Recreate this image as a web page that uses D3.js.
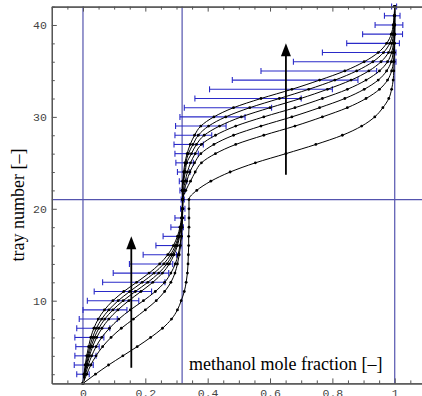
<!DOCTYPE html>
<html>
<head>
<meta charset="utf-8">
<script src="https://cdn.jsdelivr.net/npm/d3@7"></script>
<style>
  body { margin: 0; background: #fff; }
  svg { display: block; }
</style>
</head>
<body>
<svg id="chart" width="422" height="396"></svg>
<script>
// tray numbers 1..42 (category axis)
const trays = d3.range(1, 43);

// methanol mole fraction per tray, one array per profile (lowest to highest)
const profileA = [0, 0.04, 0.082, 0.128, 0.174, 0.217, 0.255, 0.284, 0.303, 0.315, 0.325, 0.331, 0.335, 0.337, 0.338, 0.339, 0.339, 0.34, 0.34, 0.34, 0.34,
  0.365, 0.41, 0.472, 0.553, 0.651, 0.747, 0.832, 0.894, 0.936, 0.962, 0.981, 0.99, 0.995, 0.997, 0.998, 0.999, 0.999, 1, 1, 1, 1];
const profileB = [0, 0.012, 0.025, 0.042, 0.063, 0.09, 0.123, 0.162, 0.2, 0.235, 0.262, 0.282, 0.295, 0.303, 0.309, 0.313, 0.316, 0.318, 0.319, 0.32, 0.32,
  0.33, 0.345, 0.36, 0.38, 0.425, 0.49, 0.58, 0.68, 0.768, 0.848, 0.908, 0.951, 0.977, 0.99, 0.996, 0.998, 0.999, 1, 1, 1, 1];
const profileC = [0, 0.008, 0.017, 0.028, 0.042, 0.06, 0.085, 0.115, 0.152, 0.194, 0.232, 0.262, 0.282, 0.296, 0.305, 0.311, 0.315, 0.317, 0.319, 0.32, 0.32,
  0.325, 0.333, 0.343, 0.358, 0.378, 0.42, 0.483, 0.571, 0.67, 0.759, 0.84, 0.902, 0.947, 0.974, 0.989, 0.995, 0.998, 0.999, 1, 1, 1];
const profileD = [0, 0.006, 0.013, 0.021, 0.031, 0.044, 0.061, 0.083, 0.112, 0.147, 0.186, 0.224, 0.255, 0.277, 0.292, 0.303, 0.31, 0.315, 0.318, 0.319, 0.32,
  0.322, 0.328, 0.335, 0.345, 0.36, 0.38, 0.425, 0.49, 0.58, 0.68, 0.768, 0.848, 0.908, 0.951, 0.977, 0.99, 0.996, 0.998, 0.999, 1, 1];
const profileE = [0, 0.005, 0.011, 0.018, 0.026, 0.037, 0.051, 0.07, 0.096, 0.129, 0.168, 0.208, 0.243, 0.269, 0.287, 0.3, 0.308, 0.314, 0.317, 0.319, 0.32,
  0.32, 0.323, 0.328, 0.333, 0.348, 0.364, 0.389, 0.438, 0.508, 0.6, 0.698, 0.784, 0.86, 0.917, 0.956, 0.98, 0.991, 0.996, 0.998, 0.999, 1];
const profileF = [0, 0.004, 0.009, 0.015, 0.022, 0.031, 0.043, 0.06, 0.083, 0.113, 0.15, 0.19, 0.228, 0.259, 0.281, 0.296, 0.306, 0.313, 0.317, 0.319, 0.32,
  0.319, 0.321, 0.325, 0.33, 0.338, 0.353, 0.37, 0.403, 0.458, 0.535, 0.63, 0.724, 0.808, 0.878, 0.93, 0.964, 0.984, 0.993, 0.997, 0.999, 1];
const profileG = [0, 0.003, 0.007, 0.012, 0.018, 0.025, 0.035, 0.049, 0.069, 0.096, 0.131, 0.172, 0.212, 0.246, 0.272, 0.29, 0.303, 0.311, 0.316, 0.318, 0.32,
  0.318, 0.32, 0.323, 0.327, 0.334, 0.344, 0.358, 0.378, 0.42, 0.483, 0.571, 0.67, 0.759, 0.84, 0.902, 0.947, 0.974, 0.989, 0.995, 0.998, 1];
const profiles = [profileA, profileB, profileC, profileD, profileE, profileF, profileG];

// blue range bars, trays 2..42
const barTrays = d3.range(2, 43);
const barLow = [-0.02, -0.028, -0.026, -0.023, -0.026, -0.02, -0.012, 0.0, 0.014, 0.036, 0.063, 0.097, 0.149, 0.193, 0.234, 0.257, 0.282, 0.295, 0.313, 0.315,
  0.311, 0.309, 0.303, 0.298, 0.295, 0.292, 0.295, 0.297, 0.311, 0.325, 0.359, 0.406, 0.479, 0.571, 0.675, 0.768, 0.846, 0.897, 0.937, 0.967, 0.99];
const barHigh = [0.02, 0.033, 0.042, 0.052, 0.067, 0.086, 0.11, 0.141, 0.179, 0.22, 0.263, 0.275, 0.288, 0.30, 0.314, 0.318, 0.322, 0.327, 0.327, 0.325,
  0.327, 0.333, 0.343, 0.354, 0.37, 0.386, 0.413, 0.459, 0.52, 0.605, 0.70, 0.80, 0.882, 0.942, 1.004, 1.004, 1.015, 1.025, 1.026, 1.017, 1.006];

// reference lines
const refX = [0, 0.318, 1];
const refY = [21];

// arrows (x, from tray, to tray)
const arrows = [[0.155, 2.7, 17.0], [0.651, 23.7, 38.0]];

// ticks
const xMajor = [0, 0.2, 0.4, 0.6, 0.8, 1];
const xTickLabels = ["0", "0.2", "0.4", "0.6", "0.8", "1"];
const yMajor = [10, 20, 30, 40];
const yTickLabels = ["10", "20", "30", "40"];

const svg = d3.select("#chart");
const x = d3.scaleLinear().domain([-0.1, 1.1]).range([51.8, 425.9]);
const y = d3.scaleLinear().domain([1, 42]).range([383.4, 6.6]);

const xMinor = d3.range(-0.1, 1.101, 0.05).filter(v => !xMajor.some(m => Math.abs(m - v) < 1e-6));
const yMinor = d3.range(2, 43, 2).filter(v => !yMajor.includes(v));

// reference lines
svg.append("g").selectAll("line").data(refX).enter().append("line")
  .attr("x1", d => x(d)).attr("x2", d => x(d))
  .attr("y1", y(1)).attr("y2", y(42))
  .attr("stroke", "#5454ae").attr("stroke-width", 1.2);
svg.append("g").selectAll("line").data(refY).enter().append("line")
  .attr("x1", x(-0.1)).attr("x2", x(1.1))
  .attr("y1", d => y(d)).attr("y2", d => y(d))
  .attr("stroke", "#5454ae").attr("stroke-width", 1.2);

// range bars
const bars = svg.append("g").attr("stroke", "#2a2ac8").attr("stroke-width", 1.1);
barTrays.forEach((t, i) => {
  const yy = y(t);
  bars.append("line").attr("x1", x(barLow[i])).attr("x2", x(barHigh[i])).attr("y1", yy).attr("y2", yy);
  bars.append("line").attr("x1", x(barLow[i])).attr("x2", x(barLow[i])).attr("y1", yy - 3).attr("y2", yy + 3);
  bars.append("line").attr("x1", x(barHigh[i])).attr("x2", x(barHigh[i])).attr("y1", yy - 3).attr("y2", yy + 3);
});

// profiles
const line = d3.line()
  .x(d => x(d[0]))
  .y(d => y(d[1]))
  .curve(d3.curveMonotoneY);

profiles.forEach(p => {
  const pts = p.map((v, i) => [v, trays[i]]);
  svg.append("path")
    .attr("d", line(pts))
    .attr("fill", "none")
    .attr("stroke", "#000")
    .attr("stroke-width", 1);
  svg.append("g").selectAll("circle").data(pts).enter().append("circle")
    .attr("cx", d => x(d[0]))
    .attr("cy", d => y(d[1]))
    .attr("r", 1.4)
    .attr("fill", "#000");
});

// arrows
arrows.forEach(a => {
  const ax = x(a[0]), tip = y(a[2]);
  svg.append("line")
    .attr("x1", ax).attr("x2", ax)
    .attr("y1", y(a[1])).attr("y2", tip + 10)
    .attr("stroke", "#000").attr("stroke-width", 1.8);
  svg.append("path")
    .attr("d", `M${ax},${tip} L${ax - 5},${tip + 13} L${ax + 5},${tip + 13} Z`)
    .attr("fill", "#000");
});

// axes
function styleAxis(g) {
  g.attr("font-family", "'Liberation Mono', monospace").attr("font-size", 11.5);
  g.selectAll(".domain").attr("stroke", "#555").attr("stroke-width", 1.2);
  g.selectAll(".tick line").attr("stroke", "#555");
  g.selectAll(".tick text").attr("fill", "#444");
}

svg.append("g").attr("transform", `translate(0,${y(1)})`)
  .call(d3.axisBottom(x).tickValues(xMajor).tickFormat((d, i) => xTickLabels[i]).tickSize(-5).tickSizeOuter(0).tickPadding(5))
  .call(styleAxis);
svg.append("g").attr("transform", `translate(0,${y(1)})`)
  .call(d3.axisBottom(x).tickValues(xMinor).tickFormat("").tickSize(-3).tickSizeOuter(0))
  .call(styleAxis);
svg.append("g").attr("transform", `translate(0,${y(42)})`)
  .call(d3.axisTop(x).tickValues(xMajor).tickFormat("").tickSize(-5).tickSizeOuter(0))
  .call(styleAxis);
svg.append("g").attr("transform", `translate(0,${y(42)})`)
  .call(d3.axisTop(x).tickValues(xMinor).tickFormat("").tickSize(-3).tickSizeOuter(0))
  .call(styleAxis);
svg.append("g").attr("transform", `translate(${x(-0.1)},0)`)
  .call(d3.axisLeft(y).tickValues(yMajor).tickFormat((d, i) => yTickLabels[i]).tickSize(-5).tickSizeOuter(0).tickPadding(5))
  .call(styleAxis);
svg.append("g").attr("transform", `translate(${x(-0.1)},0)`)
  .call(d3.axisLeft(y).tickValues(yMinor).tickFormat("").tickSize(-3).tickSizeOuter(0))
  .call(styleAxis);

// axis titles
svg.append("text")
  .attr("x", 189).attr("y", 370)
  .attr("font-family", "'Liberation Serif', serif")
  .attr("font-size", 18)
  .attr("fill", "#000")
  .text("methanol mole fraction [–]");
svg.append("text")
  .attr("transform", "translate(24,205) rotate(-90)")
  .attr("text-anchor", "middle")
  .attr("font-family", "'Liberation Serif', serif")
  .attr("font-size", 18)
  .attr("fill", "#000")
  .text("tray number [–]");
</script>
</body>
</html>
